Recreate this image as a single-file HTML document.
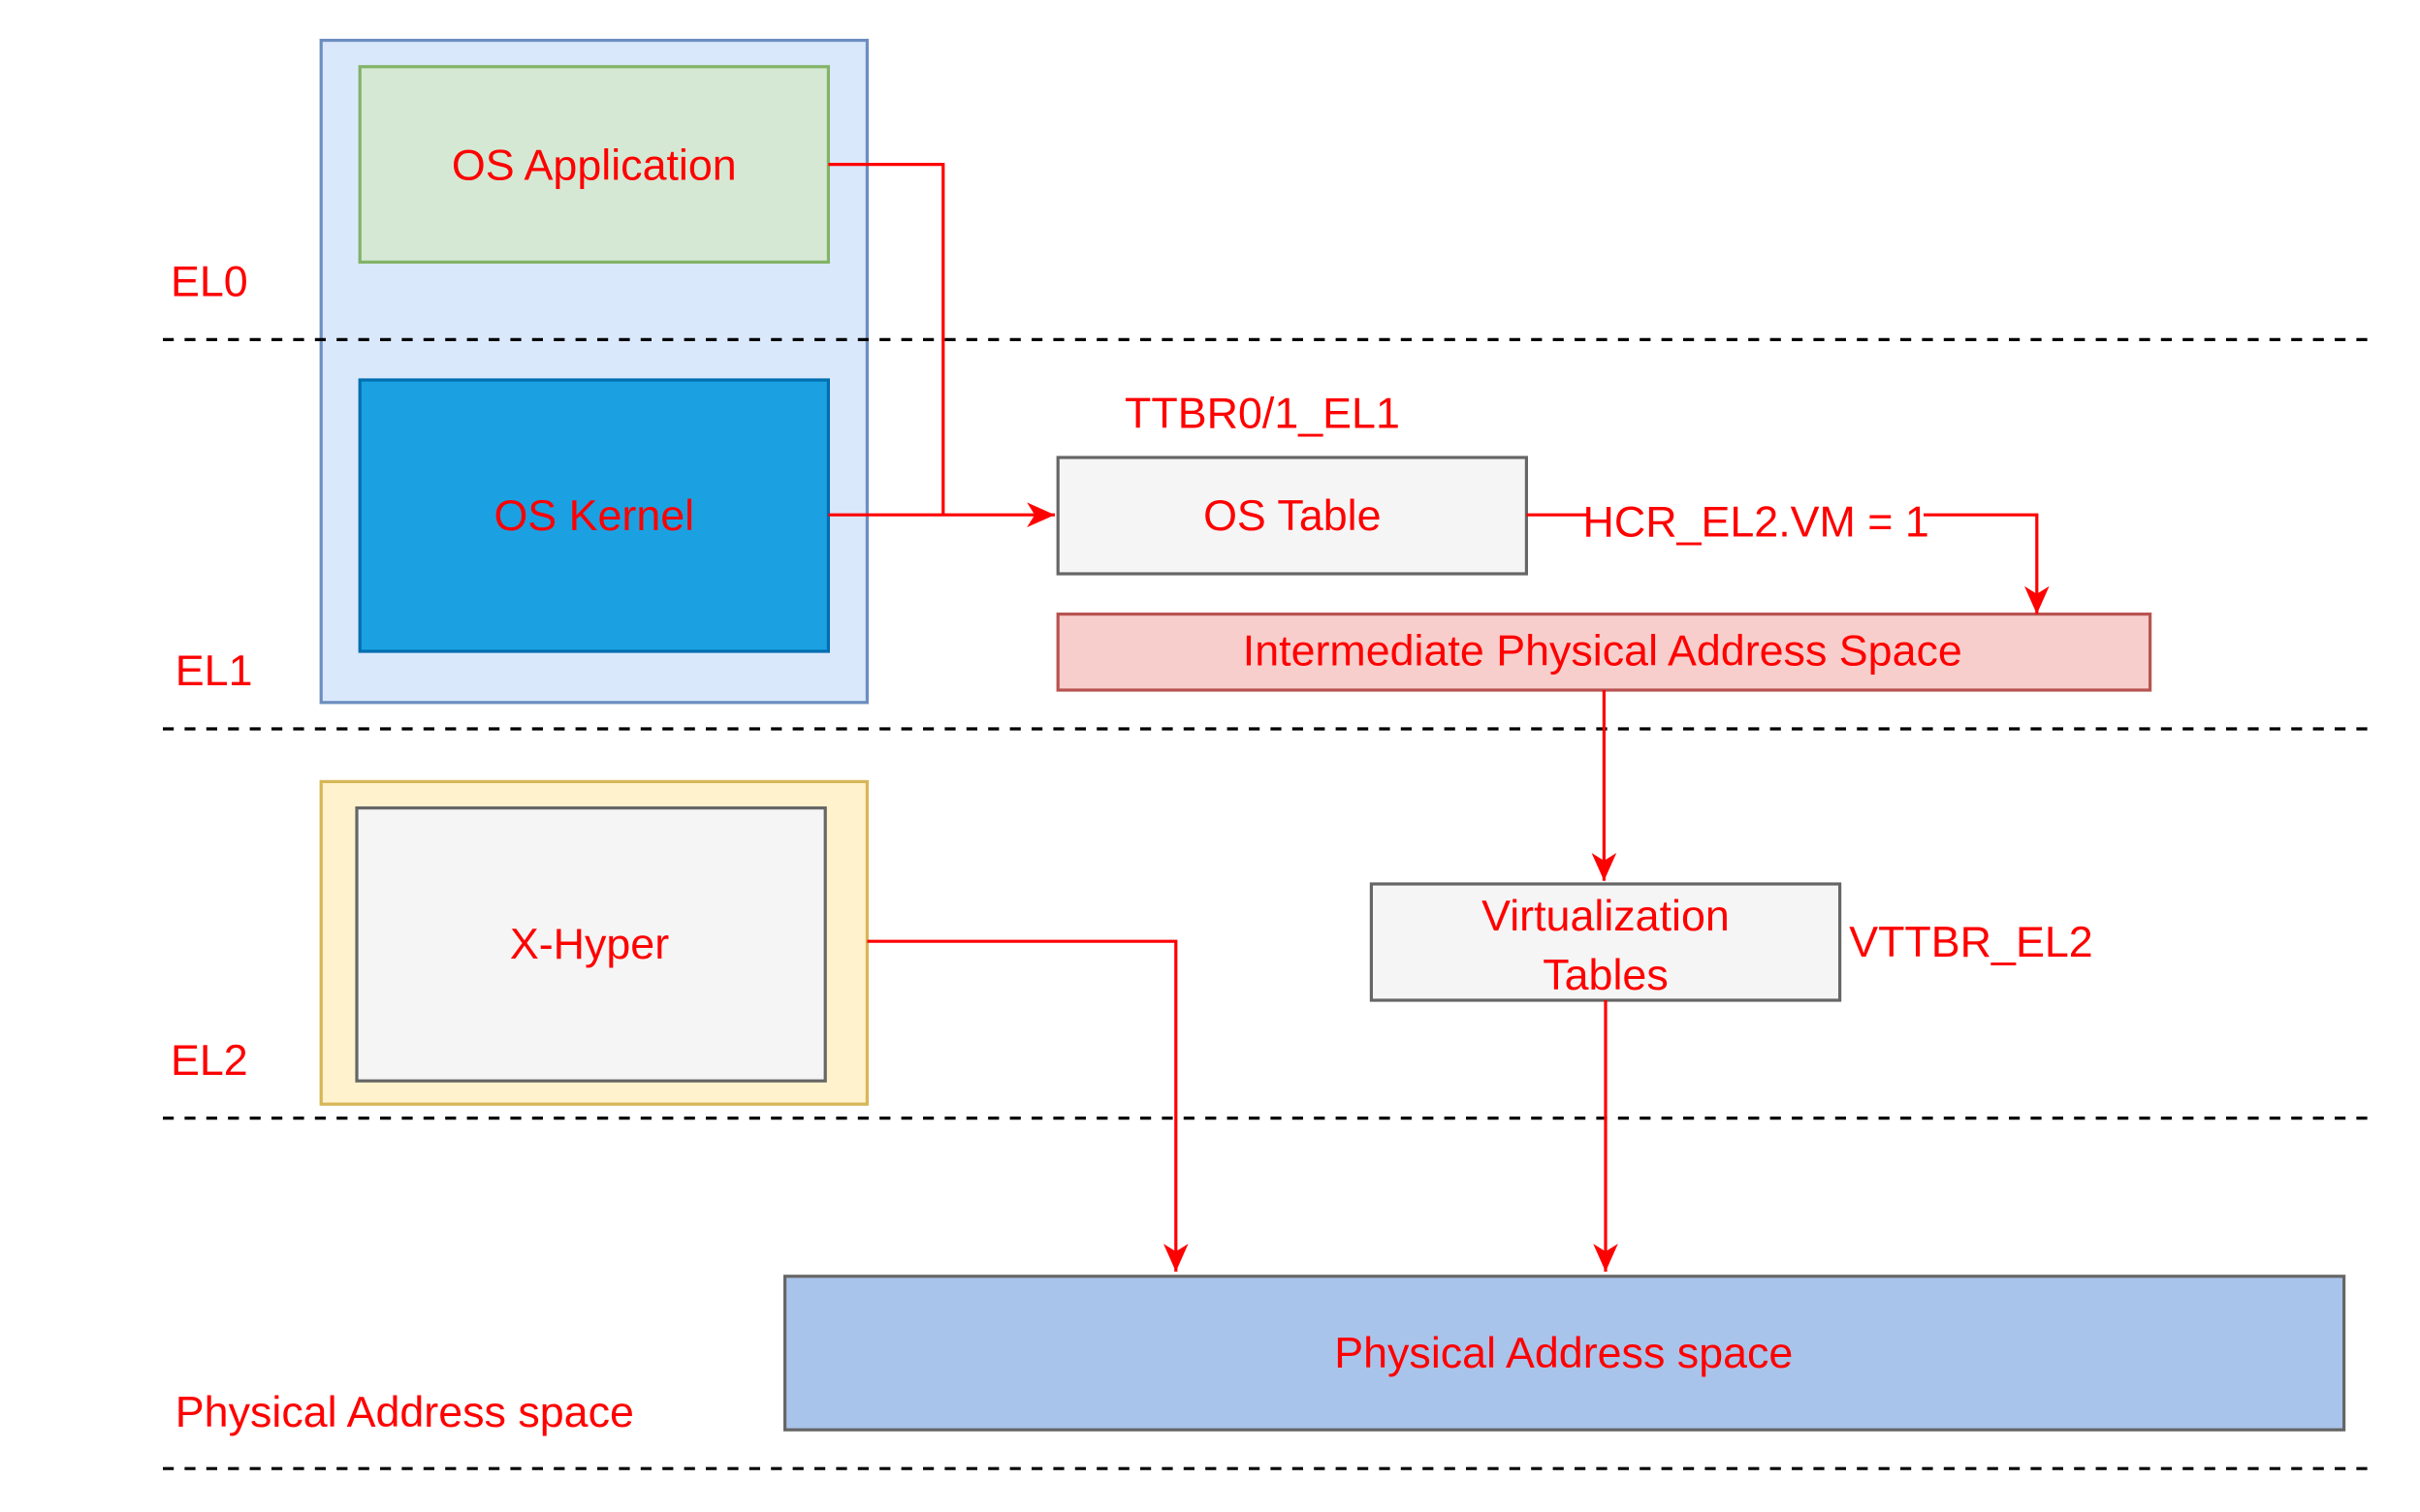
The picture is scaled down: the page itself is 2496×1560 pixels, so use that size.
<!DOCTYPE html>
<html><head><meta charset="utf-8"><style>
html,body{margin:0;padding:0;background:#fff;}
svg{display:block;}
text{font-family:"Liberation Sans",sans-serif;fill:#ff0000;font-size:28px;}
</style></head><body>
<svg width="2496" height="1560" viewBox="0 0 1560 975" xmlns="http://www.w3.org/2000/svg">
<defs>
<marker id="b" markerWidth="20" markerHeight="20" refX="18" refY="10" orient="auto" markerUnits="userSpaceOnUse"><path d="M0,2 L18,10 L0,18 L5,10 z" fill="#ff0000"/></marker></defs>
<rect x="207" y="26" width="352" height="427" fill="#dae8fc" stroke="#6c8ebf" stroke-width="2"/>
<rect x="232" y="43" width="302" height="126" fill="#d5e8d4" stroke="#82b366" stroke-width="2"/>
<rect x="232" y="245" width="302" height="175" fill="#1ba1e2" stroke="#006eaf" stroke-width="2"/>
<rect x="207" y="504" width="352" height="208" fill="#fff2cc" stroke="#d6b656" stroke-width="2"/>
<rect x="230" y="521" width="302" height="176" fill="#f5f5f5" stroke="#666" stroke-width="2"/>
<rect x="682" y="295" width="302" height="75" fill="#f5f5f5" stroke="#666" stroke-width="2"/>
<rect x="682" y="396" width="704" height="49" fill="#f8cecc" stroke="#b85450" stroke-width="2"/>
<rect x="884" y="570" width="302" height="75" fill="#f5f5f5" stroke="#666" stroke-width="2"/>
<rect x="506" y="823" width="1005" height="99" fill="#a9c4eb" stroke="#666" stroke-width="2"/>
<g stroke="#000" stroke-width="2" stroke-dasharray="7,7">
<line x1="105" y1="219" x2="1530" y2="219"/><line x1="105" y1="470" x2="1530" y2="470"/>
<line x1="105" y1="721" x2="1530" y2="721"/><line x1="105" y1="947" x2="1530" y2="947"/></g>
<g stroke="#ff0000" stroke-width="2" fill="none">
<polyline points="534,106 608,106 608,332"/>
<polyline points="534,332 680,332" marker-end="url(#b)"/>
<polyline points="984,332 1313,332 1313,396" marker-end="url(#b)"/>
<polyline points="1034,445 1034,568" marker-end="url(#b)"/>
<polyline points="1035,645 1035,820" marker-end="url(#b)"/>
<polyline points="559,607 758,607 758,820" marker-end="url(#b)"/>
</g>
<rect x="1024" y="320" width="216" height="30" fill="#fff"/>
<g text-anchor="middle">
<text x="383" y="116">OS Application</text>
<text x="383" y="342">OS Kernel</text>
<text x="380" y="618">X-Hyper</text>
<text x="833" y="342">OS Table</text>
<text x="1033" y="429">Intermediate Physical Address Space</text>
<text x="1035" y="600">Virtualization</text>
<text x="1035" y="638">Tables</text>
<text x="1008" y="882">Physical Address space</text>
<text x="1132" y="346" font-size="26">HCR_EL2.VM = 1</text>
</g>
<text x="110" y="191">EL0</text>
<text x="113" y="442">EL1</text>
<text x="110" y="693">EL2</text>
<text x="113" y="920">Physical Address space</text>
<text x="725" y="276">TTBR0/1_EL1</text>
<text x="1192" y="617">VTTBR_EL2</text>
</svg>
</body></html>
